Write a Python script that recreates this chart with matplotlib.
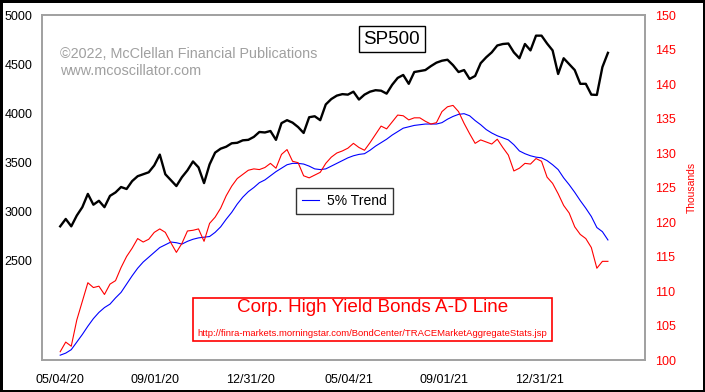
import pandas as pd
import numpy as np
import matplotlib.pyplot as plt
import matplotlib.dates as mdates

plt.rcParams['font.family'] = ['Liberation Sans', 'DejaVu Sans']

# ---------------------------
# weekly data, Mondays starting 05/04/20
# ---------------------------
start_date = "2020-05-04"

sp500 = [2850, 2925, 2850, 2960, 3045, 3180, 3070, 3110, 3045, 3160,
         3195, 3250, 3230, 3310, 3360, 3380, 3400, 3470, 3580, 3380,
         3320, 3260, 3350, 3420, 3510, 3450, 3290, 3480, 3600, 3640,
         3660, 3695, 3700, 3725, 3730, 3760, 3810, 3805, 3820, 3730,
         3900, 3930, 3905, 3860, 3800, 3960, 3970, 3930, 4090, 4145,
         4180, 4195, 4190, 4220, 4140, 4190, 4220, 4235, 4230, 4200,
         4290, 4360, 4390, 4300, 4420, 4430, 4440, 4480, 4515, 4535,
         4545, 4490, 4420, 4440, 4350, 4380, 4510, 4570, 4620, 4690,
         4705, 4710, 4620, 4560, 4705, 4640, 4790, 4790, 4710, 4640,
         4400, 4560, 4500, 4440, 4300, 4300, 4190, 4187, 4470, 4615]

# Corp. high yield bonds A-D line (thousands)
ad_line = [101.2, 102.6, 102.0, 105.8, 108.5, 111.2, 110.5, 110.7, 109.5, 111.0,
           111.5, 113.4, 115.0, 116.2, 117.6, 117.1, 117.5, 118.5, 119.0, 118.5,
           117.0, 115.6, 116.9, 118.7, 118.8, 119.0, 117.2, 119.8, 120.7, 122.0,
           123.8, 125.2, 126.3, 126.9, 127.5, 127.7, 127.6, 127.9, 128.5, 127.8,
           129.8, 130.5, 128.8, 128.6, 126.7, 126.4, 126.8, 127.2, 128.5, 129.4,
           130.0, 130.3, 130.7, 131.4, 130.8, 130.4, 131.5, 132.7, 133.9, 133.5,
           134.5, 135.5, 135.4, 134.8, 135.1, 135.1, 134.6, 134.2, 134.4, 136.0,
           136.7, 136.9, 136.0, 134.3, 132.8, 131.4, 131.9, 131.6, 131.3, 132.0,
           130.8, 129.7, 127.4, 127.8, 128.5, 128.4, 129.2, 128.8, 126.5, 125.6,
           124.1, 122.4, 121.3, 119.3, 118.2, 117.6, 116.3, 113.3, 114.3, 114.3]

# 5% trend of the A-D line
trend = [100.7, 101.0, 101.5, 102.6, 103.7, 104.9, 106.0, 106.9, 107.6, 108.1,
         109.0, 109.8, 111.0, 112.2, 113.3, 114.2, 114.9, 115.6, 116.3, 116.7,
         117.1, 117.0, 116.8, 117.2, 117.5, 117.7, 117.8, 117.9, 118.5, 119.3,
         120.4, 121.4, 122.6, 123.6, 124.4, 125.0, 125.7, 126.1, 126.7, 127.3,
         127.8, 128.3, 128.5, 128.5, 128.4, 128.1, 127.7, 127.6, 127.7, 128.1,
         128.5, 128.9, 129.3, 129.6, 129.8, 129.9, 130.4, 131.0, 131.5, 132.0,
         132.6, 133.1, 133.6, 133.8, 134.0, 134.1, 134.2, 134.2, 134.2, 134.4,
         134.9, 135.3, 135.6, 135.7, 135.4, 134.7, 134.1, 133.4, 132.9, 132.5,
         132.2, 131.9, 131.2, 130.3, 129.9, 129.6, 129.4, 129.3, 128.9, 128.3,
         127.6, 126.4, 125.4, 124.3, 123.1, 122.0, 120.8, 119.2, 118.6, 117.4]

tick_dates = ["2020-05-04", "2020-09-01", "2020-12-31",
              "2021-05-04", "2021-09-01", "2021-12-31"]

dates = pd.date_range(start=start_date, periods=len(sp500), freq='7D')
ticks = pd.to_datetime(tick_dates)

# ---------------------------
# plot
# ---------------------------
fig = plt.figure(figsize=(7.05, 3.92), dpi=100)
fig.patch.set_facecolor('white')
fig.patch.set_edgecolor('black')
fig.patch.set_linewidth(2.5)

ax = fig.add_axes([0.0596, 0.0816, 0.8554, 0.8801])
ax2 = ax.twinx()

ax.plot(dates, sp500, color='black', lw=1.7, zorder=3)
ax2.plot(dates, trend, color='#0000ff', lw=0.8, label='5% Trend')
ax2.plot(dates, ad_line, color='#ff0000', lw=0.8)

ax.set_zorder(ax2.get_zorder() + 1)
ax.patch.set_visible(False)

ax.set_xlim(pd.Timestamp("2020-04-11"), pd.Timestamp("2022-05-14"))
ax.set_ylim(1490, 5000)
ax2.set_ylim(100, 150)

ax.set_yticks([2500, 3000, 3500, 4000, 4500, 5000])
ax2.set_yticks(np.arange(100, 151, 5))
ax.set_xticks(ticks)
ax.xaxis.set_major_formatter(mdates.DateFormatter('%m/%d/%y'))

ax.tick_params(axis='y', length=0, pad=7, labelsize=9, labelcolor='black')
ax.tick_params(axis='x', length=0, pad=10, labelsize=9)
ax2.tick_params(axis='y', length=0, pad=7, labelsize=9, labelcolor='#ff0000')
ax2.set_ylabel('Thousands', color='#ff0000', fontsize=7.5, labelpad=8)

for a in (ax, ax2):
    for s in a.spines.values():
        s.set_color('#a0a0a0')
        s.set_linewidth(1.2)

# watermark
ax.text(0.03, 0.888, '\u00a92022, McClellan Financial Publications', transform=ax.transAxes,
        color='#a0a0a0', fontsize=10.4, va='center', ha='left')
ax.text(0.03, 0.838, 'www.mcoscillator.com', transform=ax.transAxes,
        color='#a0a0a0', fontsize=10.4, va='center', ha='left')

# SP500 label
ax.text(0.580, 0.930, 'SP500', transform=ax.transAxes, fontsize=13.5,
        ha='center', va='center',
        bbox=dict(boxstyle='square,pad=0.25', fc='white', ec='black', lw=1))

# legend
leg = ax2.legend(loc='upper left', bbox_to_anchor=(0.421, 0.4986), frameon=True,
                 fancybox=False, edgecolor='black', fontsize=10, handlelength=1.2,
                 handletextpad=0.6, borderpad=0.45, borderaxespad=0)
leg.get_frame().set_linewidth(1)

# red title box
ax.text(0.548, 0.153, 'Corp. High Yield Bonds A-D Line', transform=ax.transAxes,
        fontsize=13.6, color='#ff0000', ha='center', va='center')
ax.text(0.548, 0.078,
        'http://finra-markets.morningstar.com/BondCenter/TRACEMarketAggregateStats.jsp',
        transform=ax.transAxes, fontsize=6.8, color='#ff0000', ha='center', va='center')
box = plt.Rectangle((0.2503, 0.055), 0.5954, 0.125, transform=ax.transAxes,
                    fill=True, fc='white', ec='#ff0000', lw=1.2, zorder=2)
ax.add_patch(box)

fig.savefig('out.png', dpi=100)
